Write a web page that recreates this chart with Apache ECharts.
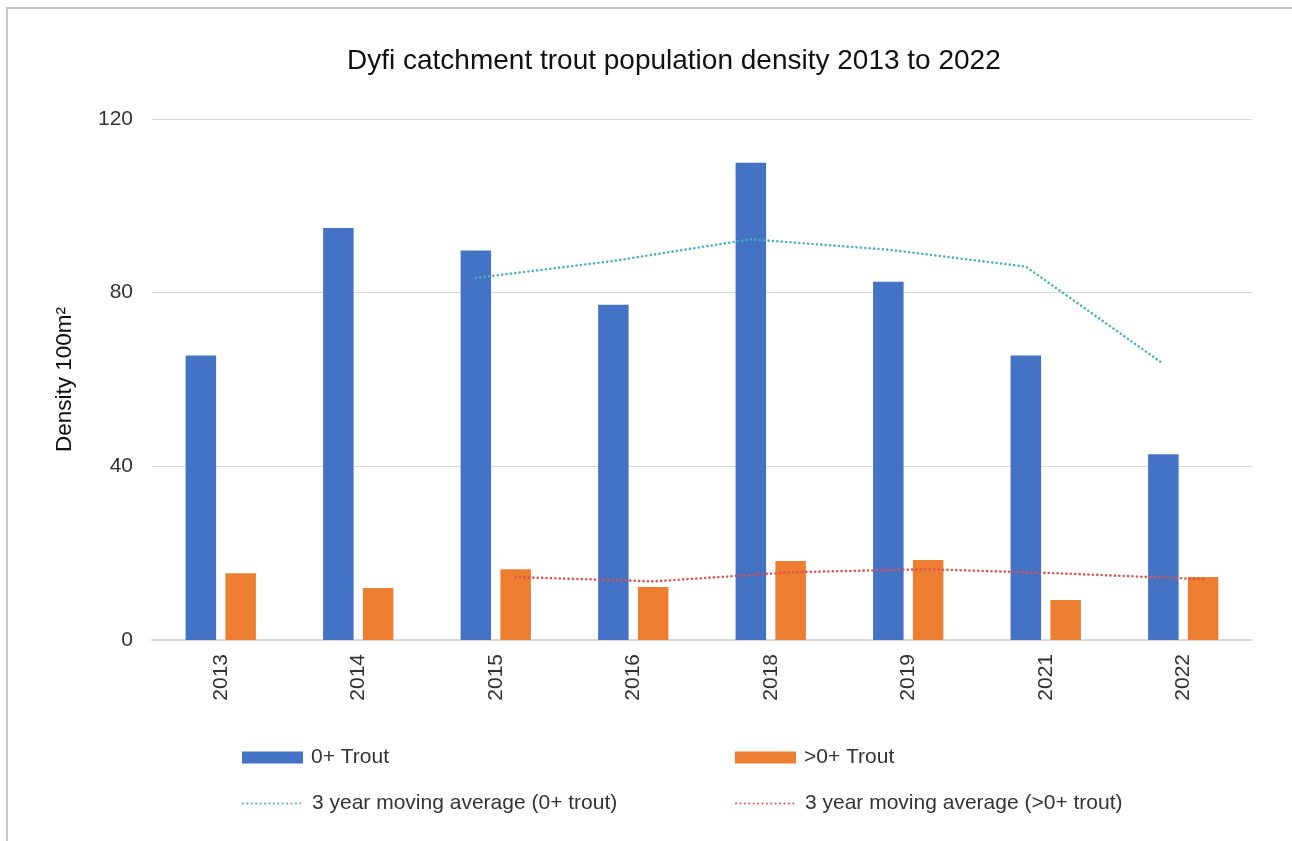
<!DOCTYPE html>
<html>
<head>
<meta charset="utf-8">
<script src="https://cdn.jsdelivr.net/npm/echarts@6/dist/echarts.min.js"></script>
<style>
html,body{margin:0;padding:0;background:#fff;}
#chart{width:1292px;height:841px;}
</style>
</head>
<body>
<div id="chart"></div>
<script>
// ---- data ----
const years = ['2013','2014','2015','2016','2018','2019','2021','2022'];
const trout0 = [65.5, 94.9, 89.7, 77.2, 109.9, 82.5, 65.5, 42.8];
const troutGt0 = [15.4, 12.0, 16.3, 12.2, 18.2, 18.4, 9.2, 14.5];
// 3-year moving averages (start at 3rd category)
const ma0 = [null, null, 83.4, 87.3, 92.3, 89.9, 86.0, 63.6];
const maGt0 = [null, null, 14.5, 13.5, 15.6, 16.3, 15.3, 14.0];
const yTicks = [0, 40, 80, 120];

const FONT = 'Liberation Sans, Arial, sans-serif';
const W = 1292, H = 841;
const grid = {left: 152, right: 40, top: 119, bottom: 201};
const barW = 30.5, gapPx = 9.3;
const catW = (W - grid.left - grid.right) / years.length;
const off = (barW + gapPx) / 2 / catW;

function shifted(arr, d) {
  const out = [];
  arr.forEach((v, i) => { if (v != null) out.push([i + d, v]); });
  return out;
}

const chart = echarts.init(document.getElementById('chart'), null, {renderer: 'canvas'});
const legendBase = {
  itemWidth: 61, itemHeight: 12, itemGap: 8, padding: 0,
  textStyle: {fontFamily: FONT, fontSize: 21, color: '#333', padding: [0, 0, 0, 3]},
  selectedMode: false
};
const dotStyle = c => ({color: c, width: 2.6, type: [0.01, 4.4], cap: 'round'});
chart.setOption({
  backgroundColor: '#fff',
  animation: false,
  textStyle: {fontFamily: FONT},
  graphic: [{
    type: 'rect', shape: {x: 7, y: 8, width: 1300, height: 900},
    style: {fill: 'none', stroke: '#c6c6c6', lineWidth: 2}, silent: true, z: -1
  }],
  title: {
    text: 'Dyfi catchment trout population density 2013 to 2022',
    left: 342, top: 42,
    textStyle: {fontFamily: FONT, fontSize: 28, fontWeight: 'normal', color: '#111'}
  },
  legend: [
    Object.assign({}, legendBase, {data: [{name: '0+ Trout', icon: 'rect'}], left: 242, top: 747}),
    Object.assign({}, legendBase, {data: [{name: '>0+ Trout', icon: 'rect'}], left: 735, top: 747}),
    Object.assign({}, legendBase, {data: ['3 year moving average (0+ trout)'], left: 242, top: 793,
      itemStyle: {opacity: 0}}),
    Object.assign({}, legendBase, {data: ['3 year moving average (>0+ trout)'], left: 735, top: 793,
      itemStyle: {opacity: 0}})
  ],
  grid: grid,
  xAxis: [{
    type: 'category', data: years,
    axisLine: {lineStyle: {color: '#d9d9d9', width: 2}},
    axisTick: {show: false},
    axisLabel: {rotate: 90, fontSize: 21, color: '#333', fontFamily: FONT, margin: 14}
  }, {
    type: 'value', min: -0.5, max: years.length - 0.5, show: false
  }],
  yAxis: {
    type: 'value', min: 0, max: 120, interval: 40,
    name: 'Density 100m²', nameLocation: 'middle', nameGap: 76,
    nameTextStyle: {fontFamily: FONT, fontSize: 22.5, color: '#111'},
    axisLine: {show: false}, axisTick: {show: false},
    axisLabel: {fontSize: 21, color: '#333', fontFamily: FONT, margin: 19,
      formatter: v => yTicks.includes(v) ? String(v) : ''},
    splitLine: {lineStyle: {color: '#d9d9d9', width: 1}}
  },
  series: [{
    name: '0+ Trout', type: 'bar', data: trout0, barWidth: barW, barGap: (gapPx / barW * 100) + '%',
    itemStyle: {color: '#4472C4'}
  }, {
    name: '>0+ Trout', type: 'bar', data: troutGt0, barWidth: barW,
    itemStyle: {color: '#ED7D31'}
  }, {
    name: '3 year moving average (0+ trout)', type: 'line', xAxisIndex: 1,
    data: shifted(ma0, -off), symbol: 'none',
    lineStyle: dotStyle('#4BACC6'),
    itemStyle: {color: '#4BACC6'}, z: 5
  }, {
    name: '3 year moving average (>0+ trout)', type: 'line', xAxisIndex: 1,
    data: shifted(maGt0, off), symbol: 'none',
    lineStyle: dotStyle('#D9534F'),
    itemStyle: {color: '#D9534F'}, z: 5
  }]
});
</script>
</body>
</html>
